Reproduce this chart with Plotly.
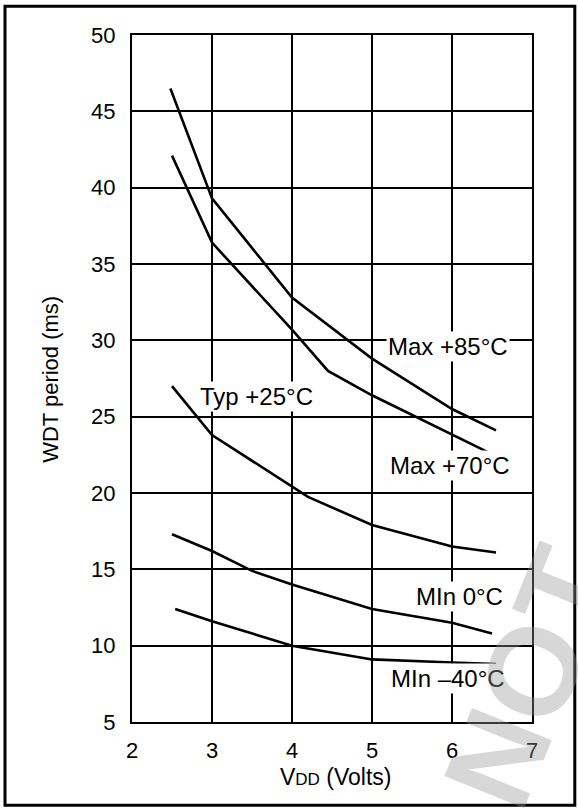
import plotly.graph_objects as go

# ---- data ----
max85_v = [2.48, 3.0, 4.0, 5.0, 6.0, 6.55]
max85_t = [46.5, 39.3, 32.8, 28.8, 25.5, 24.1]

max70_v = [2.5, 3.0, 4.0, 4.45, 5.0, 6.0, 6.48]
max70_t = [42.1, 36.4, 30.7, 28.0, 26.4, 23.8, 22.6]

typ25_v = [2.5, 3.0, 4.2, 5.0, 6.0, 6.55]
typ25_t = [27.0, 23.8, 19.75, 17.9, 16.5, 16.1]

min0_v = [2.5, 3.0, 3.5, 4.0, 5.0, 6.0, 6.5]
min0_t = [17.3, 16.2, 14.9, 14.0, 12.4, 11.5, 10.8]

minm40_v = [2.54, 3.0, 4.0, 5.0, 6.0, 6.55]
minm40_t = [12.4, 11.6, 10.0, 9.1, 8.9, 8.8]

x_ticks = [2, 3, 4, 5, 6, 7]
y_ticks = [5, 10, 15, 20, 25, 30, 35, 40, 45, 50]

label_text = ["Max +85°C", "Max +70°C", "Typ +25°C", "MIn 0°C", "MIn –40°C"]
label_x = [5.95, 5.97, 3.56, 6.09, 5.95]
label_y = [29.6, 21.8, 26.3, 13.2, 7.84]

FONT = "Liberation Sans, Arial, Helvetica, sans-serif"

fig = go.Figure()
for xs, ys in [(max85_v, max85_t), (max70_v, max70_t), (typ25_v, typ25_t),
               (min0_v, min0_t), (minm40_v, minm40_t)]:
    fig.add_trace(go.Scatter(x=xs, y=ys, mode="lines",
                             line=dict(color="black", width=2.6),
                             showlegend=False, hoverinfo="skip"))

for t, x, y in zip(label_text, label_x, label_y):
    fig.add_annotation(x=x, y=y, xref="x", yref="y", text=t, showarrow=False,
                       xanchor="center", yanchor="middle", bgcolor="white",
                       borderpad=1, font=dict(family=FONT, size=24, color="black"))

# axis titles
fig.add_annotation(x=-0.2025, y=0.498, xref="paper", yref="paper",
                   text="WDT period (ms)", textangle=-90, showarrow=False,
                   xanchor="center", yanchor="middle",
                   font=dict(family=FONT, size=22, color="black"))
fig.add_annotation(x=0.5075, y=-0.080, xref="paper", yref="paper",
                   text="V<span style='font-size:17px'>DD</span> (Volts)", showarrow=False,
                   xanchor="center", yanchor="middle",
                   font=dict(family=FONT, size=23, color="black"))

# watermark (cut off by the page edge, as in the reference)
fig.add_annotation(x=0.995, y=0.065, xref="paper", yref="paper",
                   text="<b>NOT</b>", textangle=-68, showarrow=False,
                   xanchor="center", yanchor="middle",
                   font=dict(family=FONT, size=125, color="rgba(150,150,150,0.38)"))

# outer frame
fig.add_shape(type="rect", xref="paper", yref="paper",
              x0=-0.3175, x1=1.107, y0=-0.121, y1=1.042,
              line=dict(color="black", width=3), fillcolor="rgba(0,0,0,0)")

axis_common = dict(showgrid=True, gridcolor="black", gridwidth=1.7,
                   showline=True, linecolor="black", linewidth=2, mirror=True,
                   zeroline=False, ticks="",
                   tickfont=dict(family=FONT, size=22, color="black"))

fig.update_xaxes(range=[2, 7], tickvals=x_ticks, ticktext=[str(v) for v in x_ticks],
                 ticklabelstandoff=8, **axis_common)
fig.update_yaxes(range=[5, 50], tickvals=y_ticks, ticktext=[str(v) for v in y_ticks],
                 ticklabelstandoff=10, **axis_common)

fig.update_layout(width=578, height=810, autosize=False,
                  margin=dict(l=132, r=46, t=35, b=88, autoexpand=False),
                  paper_bgcolor="white", plot_bgcolor="white",
                  font=dict(family=FONT, color="black"))

# remove the default page margin so the figure sits at the window's corner
fig.write_html("out.html",
               config={"displayModeBar": False},
               post_script="document.body.style.margin='0px';"
                           "document.body.style.overflow='hidden';")
